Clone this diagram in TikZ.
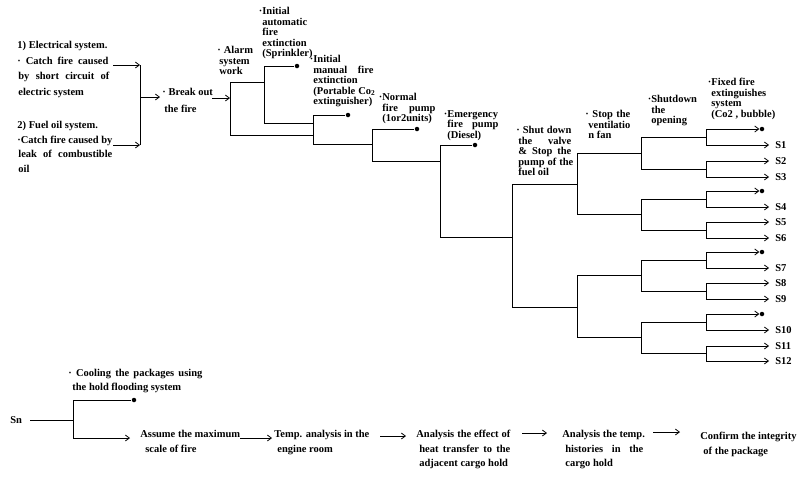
\documentclass[tikz,border=0pt]{standalone}
\usepackage{fontspec}
\setmainfont{Liberation Serif}
\usetikzlibrary{arrows.meta}
\begin{document}
\begin{tikzpicture}[x=1pt,y=-1pt,line width=0.8pt,
 arr/.style={-{Straight Barb[length=4pt,width=6pt]}},
 tx/.style={inner sep=0pt, anchor=north west, align=left, font=\bfseries\fontsize{10.5}{10.5}\selectfont},
 lt/.style={tx, font=\bfseries\fontsize{10.5}{15.5}\selectfont},
 bt/.style={tx, font=\bfseries\fontsize{10.5}{14.5}\selectfont},
 dot/.style={circle, fill, inner sep=0pt, minimum size=4.5pt},
 lab/.style={anchor=west, inner xsep=6pt, inner ysep=0pt, font=\bfseries\fontsize{10.5}{12}\selectfont}]
\useasboundingbox (0,0) rectangle (800,480);
\fill[white] (0,0) rectangle (800,480);

% ---------- left causes ----------
\node[lt] (elec) at (17,41) {1) Electrical system.\\ \makebox[91pt][s]{· Catch fire caused}\\ \hspace*{1pt}\makebox[91pt][s]{by short circuit of}\\ \hspace*{1pt}electric system};
\node[lt, font=\bfseries\fontsize{10.5}{14.5}\selectfont] (fuel) at (17,121) {2) Fuel oil system.\\ \makebox[95pt][s]{·Catch fire caused by}\\ \hspace*{1pt}\makebox[94pt][s]{leak of combustible}\\ \hspace*{1pt}oil};
\coordinate (e1) at (113,65); \coordinate (j1) at (140,65);
\coordinate (e2) at (113,145); \coordinate (j2) at (140,145);
\coordinate (jm) at (140,97); \coordinate (bkin) at (160,97);
\draw[arr] (e1) -- (j1);
\draw[arr] (e2) -- (j2);
\draw (j1) -- (j2);
\draw[arr] (jm) -- (bkin);
\node[tx, font=\bfseries\fontsize{10.5}{17}\selectfont] (brk) at (162,88) {· Break out\\ \hspace*{2pt}the fire};

% ---------- header labels ----------
\node[tx] (alarm) at (217,46) {·\hspace*{3pt}Alarm\\ \hspace*{2pt}system\\ \hspace*{2pt}work};
\node[tx] (spr) at (262,7) {\llap{·}Initial\\ automatic\\ fire\\ extinction\\ (Sprinkler)};
\node[tx] (man) at (313,55) {\llap{·}Initial\\ \makebox[60pt][s]{manual fire}\\ extinction\\ \makebox[62pt][s]{(Portable Co\textsubscript{2}}\\ extinguisher)};
\node[tx] (nor) at (382,93) {\llap{·}Normal\\ \makebox[53pt][s]{fire pump}\\ (1or2units)};
\node[tx] (emg) at (447,110) {\llap{·}Emergency\\ \makebox[51pt][s]{fire pump}\\ (Diesel)};
\node[tx] (shv) at (516,126) {\makebox[55pt][s]{· Shut down}\\ \hspace*{2pt}\makebox[53pt][s]{the valve}\\ \hspace*{2pt}\makebox[53pt][s]{\& Stop the}\\ \hspace*{2pt}\makebox[55pt][s]{pump of the}\\ \hspace*{2pt}fuel oil};
\node[tx] (ven) at (585,110) {\makebox[45pt][s]{· Stop the}\\ \hspace*{3pt}ventilatio\\ \hspace*{3pt}n fan};
\node[tx] (opn) at (651,95) {\llap{·}Shutdown\\ the\\ opening};
\node[tx] (fix) at (711,78) {\llap{·}Fixed fire\\ extinguishes\\ system\\ (Co2 , bubble)};

% ---------- event tree ----------
\coordinate (bout) at (212,98);
\coordinate (v1a) at (230,82); \coordinate (v1b) at (230,135);
\draw[arr] (bout) -- (bout -| v1a);
\draw (v1a) -- (v1b);
\coordinate (v2a) at (264,66); \coordinate (v2b) at (264,123);
\draw (v1a) -- (v1a -| v2a);
\draw (v2a) -- (v2b);
\node[dot] (d1) at (297,66) {};
\draw (v2a) -- (d1);
\coordinate (v3a) at (313,115); \coordinate (v3b) at (313,144);
\draw (v2b) -- (v2b -| v3a);
\draw (v1b) -- (v1b -| v3a);
\draw (v3a) -- (v3b);
\node[dot] (d2) at (348,115) {};
\draw (v3a) -- (d2);
\coordinate (v4a) at (372,129); \coordinate (v4b) at (372,161);
\draw (v3b) -- (v3b -| v4a);
\draw (v4a) -- (v4b);
\node[dot] (d3) at (417,129) {};
\draw (v4a) -- (d3);
\coordinate (v5a) at (440,145); \coordinate (v5b) at (440,237);
\draw (v4b) -- (v4b -| v5a);
\draw (v5a) -- (v5b);
\node[dot] (d4) at (475,145) {};
\draw (v5a) -- (d4);
\coordinate (v6a) at (512,184); \coordinate (v6b) at (512,307);
\draw (v5b) -- (v5b -| v6a);
\draw (v6a) -- (v6b);

% level 7 (x=577)
\coordinate (N1) at (577,153); \coordinate (N2) at (577,214.5);
\coordinate (N3) at (577,275.5); \coordinate (N4) at (577,337.5);
\draw (v6a) -- (v6a -| N1);
\draw (v6b) -- (v6b -| N3);
\draw (N1) -- (N2);
\draw (N3) -- (N4);
% level 8 (x=641)
\foreach \i/\y in {1/137,2/169,3/199,4/230,5/260,6/291,7/322,8/353.5}
  \coordinate (M\i) at (641,\y);
\foreach \a/\b in {1/2,3/4,5/6,7/8} \draw (M\a) -- (M\b);
\foreach \n/\a in {1/1,2/3,3/5,4/7}
  \draw (N\n) -- (M\a |- N\n);
% level 9 (x=706)
\foreach \i/\y in {1/129,2/145,3/161,4/177,5/191,6/207,7/222,8/238,9/252,10/268,11/283,12/299,13/314,14/330,15/346,16/361}
  \coordinate (L\i) at (706,\y);
\foreach \a/\b in {1/2,3/4,5/6,7/8,9/10,11/12,13/14,15/16} \draw (L\a) -- (L\b);
\foreach \m/\a in {1/1,2/3,3/5,4/7,5/9,6/11,7/13,8/15}
  \draw (M\m) -- (L\a |- M\m);
% leaves with dots
\foreach \i in {1,5,9,13} {
  \node[dot] (T\i) at (762,0 |- L\i) {};
  \draw[arr] (L\i) -- (T\i.west);
}
% labelled leaves
\foreach \i/\s in {2/1,3/2,4/3,6/4,7/5,8/6,10/7,11/8,12/9,14/10,15/11,16/12} {
  \node[lab] (S\s) at (769,0 |- L\i) {S\s};
  \draw[arr] (L\i) -- (S\s.west);
}

% ---------- bottom sequence ----------
\node[tx, anchor=west] (sn) at (10,420) {Sn};
\coordinate (snE) at (30,420); \coordinate (bj) at (73,420);
\coordinate (bT) at (73,400); \coordinate (bB) at (73,438);
\draw (snE) -- (bj);
\draw (bT) -- (bB);
\node[dot] (cd) at (134,400) {};
\draw (bT) -- (cd);
\node[bt, font=\bfseries\fontsize{10.5}{14}\selectfont] (cool) at (68,369) {\makebox[134pt][s]{· Cooling the packages using}\\ \hspace*{4pt}the hold flooding system};
\node[bt] (asm) at (140,430) {Assume the maximum\\ \hspace*{5pt}scale of fire};
\node[bt] (tmp) at (274,430) {Temp. analysis in the\\ \hspace*{3pt}engine room};
\node[bt] (eff) at (416,430) {\makebox[94pt][s]{Analysis the effect of}\\ \hspace*{3pt}\makebox[91pt][s]{heat transfer to the}\\ \hspace*{3pt}adjacent cargo hold};
\node[bt] (his) at (562,430) {Analysis the temp.\\ \hspace*{3pt}\makebox[78pt][s]{histories in the}\\ \hspace*{3pt}cargo hold};
\node[bt] (cnf) at (700,432) {Confirm the integrity\\ \hspace*{3pt}of the package};
\coordinate (a0) at (130,438);
\coordinate (a1s) at (240,438); \coordinate (a1e) at (272,438);
\coordinate (a2s) at (380,436); \coordinate (a2e) at (406,436);
\coordinate (a3s) at (522,433); \coordinate (a3e) at (547,433);
\coordinate (a4s) at (653,432); \coordinate (a4e) at (680,432);
\draw[arr] (bB) -- (a0);
\draw[arr] (a1s) -- (a1e);
\draw[arr] (a2s) -- (a2e);
\draw[arr] (a3s) -- (a3e);
\draw[arr] (a4s) -- (a4e);
\end{tikzpicture}
\end{document}
